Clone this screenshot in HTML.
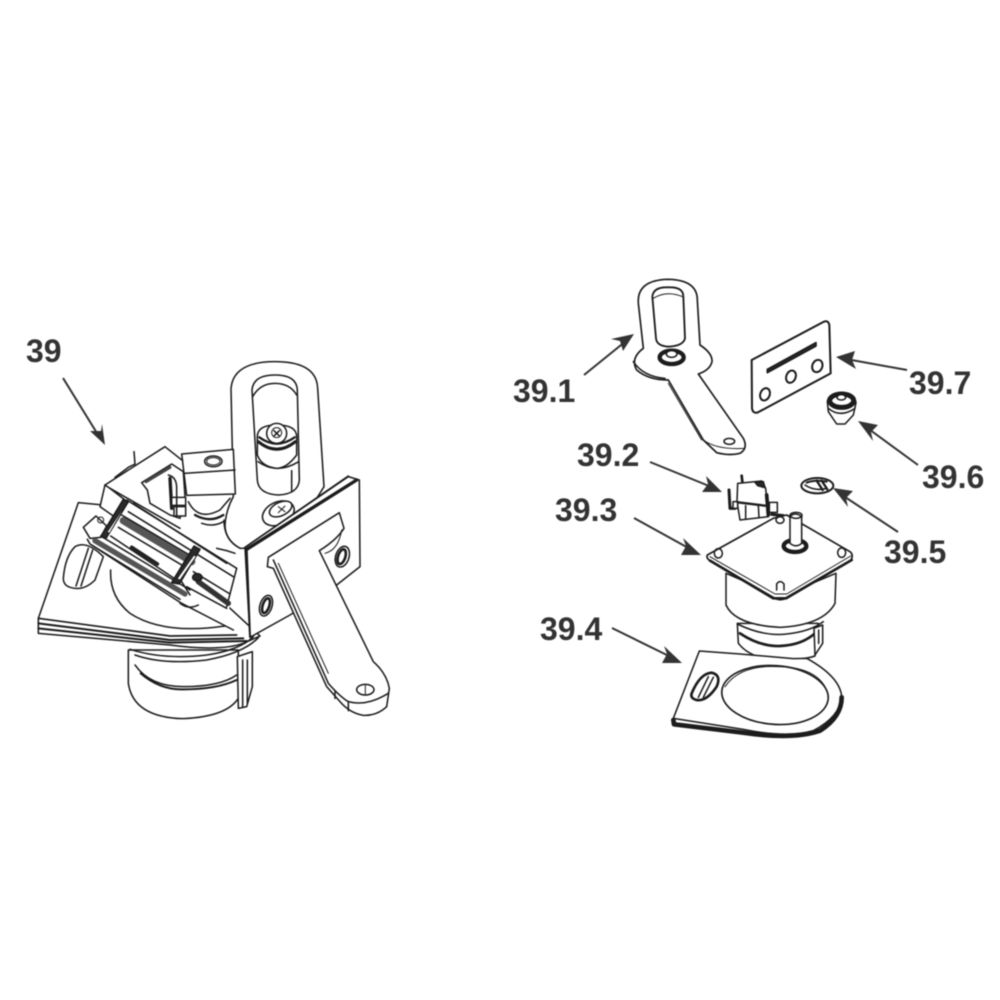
<!DOCTYPE html>
<html><head><meta charset="utf-8"><style>
html,body{margin:0;padding:0;background:#fff}
svg{display:block;filter:blur(.5px)}
text{font-family:"Liberation Sans",sans-serif;font-weight:700;font-size:32px;fill:#333}
.l path,.l polygon,.l ellipse,.l circle,.l rect,.l line,.l polyline{stroke:#1c1c1c;stroke-width:4.6;fill:none;stroke-linejoin:round;stroke-linecap:round}
.l .w{fill:#fff}
.l .d{fill:#2a2a2a}
.l .t{stroke-width:3}
.a line{stroke:#333;stroke-width:2}
.a polygon{fill:#333}
</style></head><body>
<svg width="1000" height="1000" viewBox="0 0 1000 1000" xmlns="http://www.w3.org/2000/svg">
<rect width="1000" height="1000" fill="#fff"/>

<!-- LEFT ASSEMBLY -->
<g class="l" transform="translate(20,340) scale(.33333)">
 <!-- motor lower -->
 <path class="w" d="M325,930 L325,1030 Q340,1132 490,1136 Q620,1130 655,1075 L655,930 Z"/>
 <path d="M345,975 Q390,1040 490,1040 Q600,1040 650,1005"/>
 <path d="M362,1000 Q420,1050 490,1048 Q590,1048 650,1020" style="stroke-width:6"/>
 <path class="w" d="M652,950 L697,935 L697,1040 L680,1100 L655,1105 Z"/>
 <line x1="668" y1="960" x2="668" y2="1100"/><line x1="682" y1="960" x2="682" y2="1090"/>
 <!-- base plate -->
 <path class="w" d="M175,488 L55,835 L55,880 L450,915 Q600,935 670,910 L720,888 L690,860 L300,500 Z"/>
 <path d="M55,835 L450,888 L650,885" style="stroke-width:5"/>
 <path d="M55,850 L450,900 L670,895" style="stroke-width:6"/>
 <path d="M55,865 L450,908 L680,903" style="stroke-width:6"/>
 <path d="M345,945 Q430,975 560,960 Q670,940 715,893"/>
 <path d="M330,928 Q430,960 560,945 Q660,930 700,890"/>
 <!-- plate slot -->
 <path class="w" d="M130,715 Q135,650 165,620 Q200,600 250,650 L225,720 Q190,755 150,742 Q130,735 130,715 Z"/>
 <line x1="168" y1="738" x2="205" y2="625"/><line x1="183" y1="738" x2="218" y2="630"/>
 <!-- motor upper curve -->
 <path d="M272,690 Q268,770 330,820 Q430,885 615,858"/>
 <!-- arm upper loop -->
 <path class="w" d="M640,470 L633,145 Q640,65 765,65 Q890,65 893,145 L912,440 L800,620 L660,625 Q615,600 615,555 Q618,510 640,470 Z"/>
 <path class="w" d="M696,150 Q700,105 765,105 Q830,105 832,150 L838,420 Q835,462 775,465 Q715,462 712,420 Z"/>
 <path d="M698,170 Q720,130 765,130 Q810,130 830,165"/>
 <path d="M714,365 Q770,405 836,365"/>
 <line x1="815" y1="392" x2="815" y2="455"/>
 <!-- screw -->
 <path class="w" d="M712,290 Q712,255 770,255 Q830,255 830,290 L830,345 Q800,385 770,385 Q725,380 712,345 Z"/>
 <path d="M715,305 Q770,350 826,305" style="stroke-width:9"/>
 <path d="M718,292 Q770,330 824,292" style="stroke-width:7"/>
 <circle class="w" cx="770" cy="280" r="30"/>
 <path d="M762,272 L778,288 M778,272 L762,288"/>
 <circle cx="770" cy="278" r="15" class="t"/>
 <!-- lower screw -->
 <ellipse class="w" cx="775" cy="520" rx="50" ry="34" transform="rotate(-25 775 520)"/>
 <ellipse class="w" cx="782" cy="507" rx="36" ry="20" transform="rotate(-25 782 507)"/>
 <path d="M775,500 L795,515 M795,498 L775,518" class="t"/>
 <!-- block -->
 <polygon class="w" points="485,342 640,328 646,462 500,466"/>
 <line x1="492" y1="400" x2="645" y2="390"/>
 <ellipse cx="580" cy="364" rx="26" ry="16"/>
 <ellipse cx="580" cy="364" rx="20" ry="11" class="t"/>
 <!-- bracket -->
 <path class="w" d="M675,622 L985,410 L1018,420 L1020,680 L950,735 L810,825 L690,892 Z"/>
 <path d="M680,628 L1010,420" style="stroke-width:10"/>
 <path d="M675,622 L985,408"/>
 <line x1="680" y1="625" x2="690" y2="890" style="stroke-width:6"/>
 <ellipse cx="738" cy="797" rx="18" ry="32" transform="rotate(18 738 797)"/>
 <ellipse cx="738" cy="797" rx="10" ry="23" transform="rotate(18 738 797)" style="stroke-width:8"/>
 <ellipse cx="967" cy="650" rx="20" ry="32" transform="rotate(18 967 650)"/>
 <ellipse cx="965" cy="650" rx="11" ry="23" transform="rotate(18 965 650)" style="stroke-width:8"/>
 <!-- lower arm -->
 <path class="w" d="M745,652 L958,518 L972,565 Q950,600 898,632 L1060,965 Q1100,1000 1108,1045 L1100,1100 Q1070,1128 1030,1126 Q990,1120 960,1085 L920,1040 L760,685 L742,680 Z"/>
 <path d="M760,660 L925,1030 Q960,1070 985,1085 Q1040,1100 1105,1060"/>
 <path d="M775,670 L925,1000" class="t"/>
 <line x1="985" y1="1085" x2="985" y2="1112"/>
 <line x1="945" y1="1055" x2="945" y2="1075"/>
 <ellipse cx="1036" cy="1049" rx="26" ry="16"/>
 <line x1="1036" y1="1035" x2="1036" y2="1063" class="t"/>
 <path d="M965,570 Q955,630 915,640" class="t"/>
</g>

<!-- RAIL SECTION, zoom-5 coordinates -->
<g class="l" transform="translate(70,440) scale(.33333)">
 <!-- body background -->
 <path class="w" d="M105,135 L285,20 L335,62 L345,170 L355,185 L465,300 L512,325 L478,505 L330,490 L50,300 L38,262 L78,228 L90,200 Z" style="stroke:none"/>
 <!-- under piece -->
 <path d="M355,185 Q385,245 450,210 L480,175"/>
 <path d="M375,225 Q420,250 460,225" style="stroke-width:7"/>
 <path d="M395,250 Q430,262 460,245"/>
 <path d="M462,240 Q462,300 510,325"/>
 <path d="M440,325 L470,332 L495,340"/>
 <!-- top plate -->
 <path d="M105,135 L285,20 L338,62"/>
 <path d="M105,135 L120,145 L330,265"/>
 <path d="M105,135 L90,200 L130,228"/>
 <path d="M120,145 L165,180"/>
 <polyline points="135,112 175,82 195,72 192,35"/>
 <path d="M170,180 L500,385"/>
 <path d="M190,190 L470,370"/>
 <!-- inner cut -->
 <polygon class="w" points="215,128 305,72 340,95 345,170 330,235 300,225 240,190 232,150"/>
 <line x1="228" y1="125" x2="300" y2="82" style="stroke-width:9;stroke:#444"/>
 <path d="M300,115 L305,205" style="stroke-width:10"/>
 <rect class="w" x="312" y="200" width="35" height="28"/>
 <rect class="w" x="305" y="172" width="42" height="24"/>
 <path d="M295,105 Q318,110 320,140 L320,225"/>
 <!-- rail right ends -->
 <path d="M500,385 L470,500"/>
 <path d="M175,215 L490,410"/>
 <path d="M385,425 L475,490" style="stroke-width:16;stroke:#333"/>
 <path d="M370,395 L480,462"/>
 <path d="M350,440 L470,505"/>
 <!-- deck -->
 <polygon class="w" points="150,245 370,385 325,435 110,295" style="stroke:none"/>
 <path d="M160,242 L365,365" style="stroke-width:22;stroke:#555"/>
 <path d="M155,225 L375,355"/>
 <path d="M145,262 L352,385"/>
 <path d="M122,288 L320,420"/>
 <path d="M185,322 L262,372" style="stroke-width:11;stroke:#222"/>
 <!-- lower rail -->
 <path class="w" d="M40,262 L78,228 L110,258 L92,292 L60,295 Z"/>
 <circle cx="92" cy="240" r="9" class="t"/>
 <path d="M75,302 L345,462" style="stroke-width:16;stroke:#555"/>
 <path d="M92,288 L360,450"/>
 <path d="M52,298 L60,312 L335,490 L490,570"/>
 <path d="M65,315 L330,478"/>
 <!-- straps -->
 <polygon class="d" points="160,178 175,185 108,295 92,290"/>
 <polygon class="w" points="155,212 160,208 118,280 112,276" style="stroke-width:2"/>
 <polygon class="d" points="372,318 390,328 328,432 305,428"/>
 <polygon class="w" points="372,345 378,350 330,420 322,416" style="stroke-width:2"/>
 <ellipse cx="382" cy="412" rx="14" ry="11" class="d"/>
 <path d="M330,490 Q355,510 385,495"/>
 <path d="M335,425 L360,465" />
</g>

<!-- 39.1 + 39.7 + 39.6 + 39.5 -->
<g class="l" transform="translate(620,270) scale(.33333)">
 <path class="w" d="M70,235 L55,100 Q50,30 145,28 Q232,30 232,90 L240,225 Q278,250 276,275 Q270,300 235,312 L370,505 Q385,535 360,550 Q330,558 290,548 L250,510 L145,330 Q85,330 50,300 Q30,265 70,235 Z" style="stroke-width:5"/>
 <path d="M40,275 Q70,320 135,325" />
 <path class="w" d="M97,80 Q100,50 145,52 Q190,50 190,80 L195,205 Q190,228 145,230 Q110,228 108,205 Z" style="stroke-width:5.5"/>
 <path d="M100,85 Q140,60 188,80" class="t"/>
 <ellipse cx="155" cy="262" rx="36" ry="20" style="stroke-width:13"/>
 <ellipse cx="155" cy="252" rx="16" ry="10" class="w"/>
 <path d="M145,340 L245,510" class="t"/>
 <path d="M250,510 Q290,540 375,535" class="t"/>
 <ellipse cx="328" cy="514" rx="16" ry="9"/>
 <!-- 39.7 -->
 <path class="w" d="M395,270 L612,155 Q625,150 628,165 L632,310 L412,428 Q398,430 396,415 Z" style="stroke-width:6"/>
 <path d="M442,298 L588,218 L588,228 L442,308 Z" class="d" style="stroke-width:5"/>
 <ellipse cx="435" cy="373" rx="14" ry="19" transform="rotate(22 435 373)" style="stroke-width:6"/>
 <ellipse cx="513" cy="320" rx="14" ry="19" transform="rotate(22 513 320)" style="stroke-width:6"/>
 <ellipse cx="592" cy="288" rx="15" ry="19" transform="rotate(22 592 288)" style="stroke-width:6"/>
 <!-- 39.6 -->
 <path class="w" d="M622,395 Q625,370 665,370 Q705,372 708,398 L700,435 L675,462 L650,462 L625,425 Z"/>
 <ellipse cx="665" cy="392" rx="36" ry="20" style="stroke-width:15"/>
 <ellipse cx="664" cy="382" rx="13" ry="8" class="w"/>
 <path d="M625,415 Q660,445 705,415"/>
 <!-- 39.5 -->
 <ellipse class="w" cx="592" cy="647" rx="48" ry="23" style="stroke-width:6"/>
 <path d="M590,632 L608,660 M605,632 L622,658" style="stroke-width:7"/>
 <path d="M555,645 Q585,665 620,655"/>
 <path d="M560,638 Q585,628 620,635" style="stroke-width:6"/>
</g>

<!-- 39.2 -->
<g class="l" transform="translate(715,465) scale(.33333)">
 <polygon class="w" points="68,55 140,48 152,70 160,155 75,165 66,110"/>
 <path class="d" d="M120,52 L145,50 L150,68 L128,62 Z"/>
 <line x1="80" y1="32" x2="82" y2="50" style="stroke-width:8"/>
 <path d="M42,75 L45,130 L60,130" style="stroke-width:9"/>
 <rect class="w" x="54" y="110" width="14" height="20"/>
 <line x1="68" y1="112" x2="150" y2="122" style="stroke-width:7"/>
 <line x1="92" y1="122" x2="92" y2="160"/><line x1="130" y1="122" x2="132" y2="158"/>
 <path d="M155,90 L160,150" style="stroke-width:11"/>
 <rect class="w" x="163" y="112" width="24" height="30"/>
 <rect class="w" x="183" y="158" width="24" height="20"/>
 <path d="M170,148 L205,152" style="stroke-width:9"/>
</g>

<!-- MOTOR 39.3 + 39.4 -->
<g class="l" transform="translate(660,490) scale(.33333)">
 <!-- lower motor -->
 <path class="w" d="M232,400 L235,460 Q270,505 350,510 Q430,510 465,498 L475,400 Z"/>
 <path d="M240,430 Q300,470 360,468 Q430,465 470,425" style="stroke-width:8"/>
 <path d="M462,415 L488,405 L488,460 L465,495 Z" class="w"/>
 <line x1="476" y1="420" x2="476" y2="460"/>
 <!-- upper motor -->
 <path class="w" d="M198,250 L198,345 Q225,405 360,412 Q490,405 525,340 L528,250 L360,320 Z"/>
 <path d="M232,402 Q310,440 380,432 Q450,425 490,395"/>
 <!-- flange -->
 <path class="w" d="M142,195 L340,85 L380,75 L570,185 Q582,195 572,212 L378,325 Q360,335 340,322 L150,212 Q138,205 142,195 Z" style="stroke-width:5"/>
 <path d="M150,212 L340,325 L378,325 L575,210" style="stroke-width:8"/>
 <path d="M150,200 L345,312 L380,312 L572,198" class="t"/>
 <ellipse cx="175" cy="190" rx="12" ry="14"/>
 <ellipse cx="545" cy="188" rx="12" ry="14"/>
 <path d="M350,300 L350,282 Q360,268 372,282 L372,300"/>
 <ellipse cx="360" cy="90" rx="12" ry="10"/>
 <ellipse cx="405" cy="168" rx="34" ry="18" style="stroke-width:13"/>
 <path class="w" d="M390,80 Q405,64 425,80 L425,160 Q408,175 390,160 Z"/>
 <ellipse cx="408" cy="76" rx="18" ry="9"/>
 <!-- plate 39.4 -->
 <path class="w" d="M118,483 L240,492 L400,506 L440,505 Q540,560 545,620 Q540,680 460,722 Q380,745 250,718 L40,685 Z"/>
 <path d="M40,690 L42,703 L250,728 Q400,750 480,722 Q545,680 545,622" style="stroke-width:14"/>
 <ellipse cx="345" cy="615" rx="160" ry="88" class="w" transform="rotate(4 345 615)" style="stroke-width:5"/>
 <path d="M195,590 Q240,525 350,530 Q460,530 495,590" class="t"/>
 <path d="M95,610 Q120,550 155,548 Q185,555 170,590 Q140,635 110,630 Q90,625 95,610 Z" style="stroke-width:8"/>
 <line x1="115" y1="622" x2="145" y2="560"/><line x1="130" y1="622" x2="160" y2="562"/>
</g>

<!-- ARROWS -->
<g class="a">
 <line x1="63" y1="378" x2="100" y2="438"/><polygon points="105,445 90,431 101,431 102,424"/>
 <line x1="584" y1="375" x2="626" y2="341"/><polygon points="634,334 623,351 620,341 611,339"/>
 <line x1="650" y1="462" x2="714" y2="488"/><polygon points="722,492 702,492 708,484 706,476"/>
 <line x1="634" y1="518" x2="692" y2="550"/><polygon points="701,555 681,555 686,546 683,538"/>
 <line x1="612" y1="628" x2="673" y2="658"/><polygon points="682,663 662,663 667,654 664,646"/>
 <line x1="898" y1="532" x2="842" y2="495"/><polygon points="833,488 853,491 846,498 848,507"/>
 <line x1="918" y1="465" x2="866" y2="427"/><polygon points="858,421 878,425 871,432 873,441"/>
 <line x1="907" y1="370" x2="846" y2="359"/><polygon points="836,357 855,351 852,360 856,369"/>
</g>

<!-- LABELS -->
<text x="26" y="362">39</text>
<text x="513" y="402">39.1</text>
<text x="577" y="466">39.2</text>
<text x="555" y="521">39.3</text>
<text x="540" y="640">39.4</text>
<text x="884" y="563">39.5</text>
<text x="922" y="488">39.6</text>
<text x="909" y="394">39.7</text>
</svg>
</body></html>
